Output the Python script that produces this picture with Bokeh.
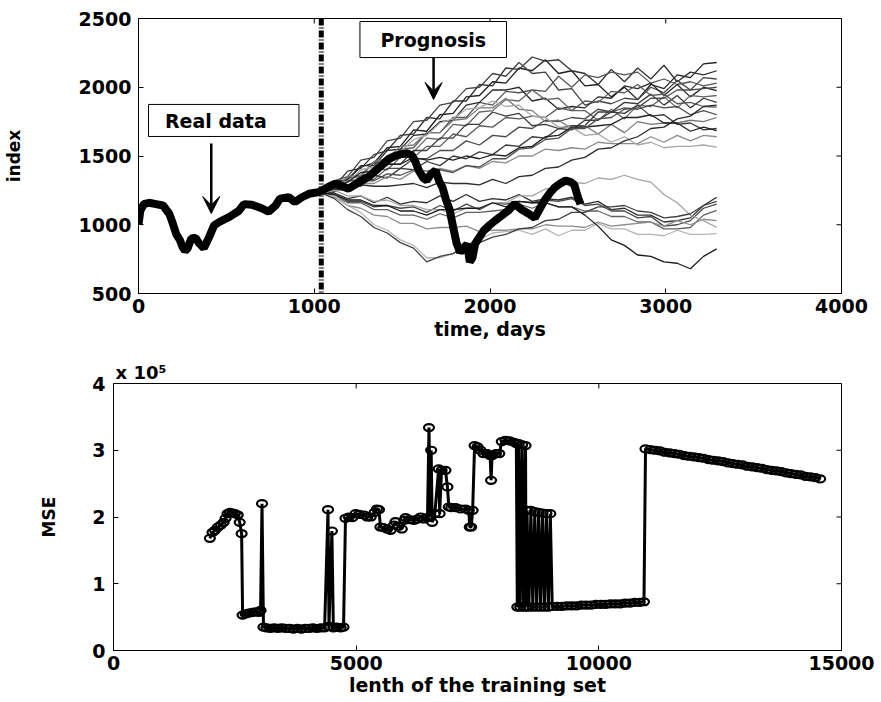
from bokeh.plotting import figure
from bokeh.layouts import column
from bokeh.models import (Span, BoxAnnotation, Label, Arrow, VeeHead, FixedTicker)
from bokeh.embed import file_html
from bokeh.resources import INLINE

FONT = "DejaVu Sans"

# ---------------- top panel data ----------------
x1_ticks = [0, 1000, 2000, 3000, 4000]
y1_ticks = [500, 1000, 1500, 2000, 2500]
split_day = 1040

real_days = [0, 10, 30, 60, 100, 140, 175, 195, 215, 235,
             250, 265, 280, 300, 325, 345, 372, 400, 430, 460,
             490, 515, 545, 570, 600, 645, 700, 740, 780, 805,
             855, 890, 930, 970, 1025, 1045, 1080, 1120, 1160, 1195,
             1230, 1270, 1310, 1350, 1390, 1425, 1460, 1500, 1530, 1555,
             1575, 1595, 1620, 1640, 1665, 1690, 1710, 1730, 1750, 1770,
             1790, 1810, 1830, 1850, 1870, 1885, 1900, 1915, 1940, 1965,
             2000, 2030, 2070, 2105, 2140, 2180, 2220, 2255, 2285, 2310,
             2340, 2370, 2400, 2430, 2460, 2480, 2500, 2515]
real_index = [1000, 1100, 1150, 1160, 1150, 1140, 1080, 1010, 930, 890,
              840, 810, 830, 900, 905, 865, 830, 905, 995, 1020,
              1040, 1055, 1080, 1100, 1150, 1145, 1120, 1095, 1140, 1190,
              1200, 1165, 1200, 1225, 1237, 1250, 1275, 1300, 1280, 1262,
              1290, 1320, 1350, 1395, 1440, 1480, 1500, 1515, 1520, 1505,
              1460, 1395, 1340, 1322, 1370, 1395, 1320, 1270, 1180, 1110,
              985, 865, 800, 830, 860, 730, 760, 860, 910, 958,
              1000, 1031, 1070, 1104, 1153, 1110, 1080, 1050, 1120, 1176,
              1230, 1273, 1300, 1322, 1310, 1290, 1200, 1150]

prog_days = [1040, 1115, 1190, 1265, 1340, 1415, 1490, 1565, 1640, 1715,
             1790, 1865, 1940, 2015, 2090, 2165, 2240, 2315, 2390, 2465,
             2540, 2615, 2690, 2765, 2840, 2915, 2990, 3065, 3140, 3215, 3290]

prog_01 = [1230, 1310, 1330, 1420, 1450, 1560, 1570, 1690, 1680, 1800,
           1810, 1930, 1940, 2040, 2030, 2140, 2120, 2200, 2100, 2120,
           2010, 2020, 1930, 2000, 1910, 2020, 1990, 2090, 2070, 2170, 2180]
prog_02 = [1230, 1280, 1390, 1410, 1510, 1540, 1650, 1660, 1780, 1770,
           1900, 1900, 2020, 2010, 2140, 2130, 2220, 2190, 2200, 2120,
           2100, 2020, 2130, 2040, 2140, 2060, 2160, 2040, 2110, 2090, 2120]
prog_03 = [1230, 1320, 1350, 1470, 1490, 1610, 1630, 1750, 1760, 1870,
           1890, 1990, 2000, 2100, 2080, 2180, 2100, 2110, 1980, 1990,
           1870, 1900, 1880, 1920, 1910, 2000, 1960, 2050, 1980, 2070, 2060]
prog_04 = [1230, 1260, 1340, 1350, 1450, 1460, 1550, 1560, 1670, 1670,
           1780, 1780, 1890, 1870, 1970, 1960, 1980, 1970, 2080, 2000,
           2090, 2070, 2110, 2090, 2110, 2030, 2060, 2020, 2040, 2010, 2030]
prog_05 = [1230, 1300, 1330, 1430, 1430, 1540, 1550, 1650, 1660, 1750,
           1760, 1870, 1890, 1980, 1980, 2000, 1900, 1920, 1840, 1860,
           1850, 1930, 1920, 2010, 1990, 2030, 1940, 2020, 1930, 2000, 1975]
prog_06 = [1230, 1250, 1320, 1320, 1420, 1430, 1520, 1530, 1630, 1620,
           1730, 1720, 1820, 1830, 1910, 1900, 1980, 1910, 1920, 1830,
           1830, 1760, 1840, 1770, 1870, 1860, 1930, 1850, 1940, 1930, 1940]
prog_07 = [1230, 1270, 1270, 1360, 1360, 1440, 1440, 1540, 1540, 1630,
           1630, 1730, 1730, 1820, 1790, 1810, 1720, 1730, 1700, 1720,
           1720, 1820, 1820, 1890, 1880, 1950, 1870, 1940, 1850, 1920, 1890]
prog_08 = [1230, 1240, 1320, 1330, 1410, 1400, 1490, 1490, 1570, 1570,
           1660, 1640, 1720, 1710, 1780, 1770, 1790, 1780, 1850, 1830,
           1900, 1890, 1970, 1960, 2020, 1940, 1950, 1880, 1890, 1860, 1855]
prog_09 = [1230, 1260, 1260, 1330, 1330, 1410, 1410, 1480, 1480, 1540,
           1540, 1610, 1580, 1650, 1640, 1710, 1700, 1760, 1750, 1780,
           1770, 1840, 1820, 1850, 1840, 1870, 1850, 1860, 1800, 1830, 1800]
prog_10 = [1230, 1260, 1350, 1360, 1460, 1480, 1570, 1580, 1670, 1670,
           1760, 1770, 1850, 1850, 1920, 1840, 1830, 1750, 1760, 1700,
           1720, 1660, 1730, 1670, 1750, 1730, 1740, 1740, 1760, 1750, 1780]
prog_11 = [1230, 1240, 1290, 1280, 1360, 1340, 1410, 1400, 1460, 1430,
           1500, 1480, 1530, 1510, 1580, 1570, 1640, 1630, 1700, 1690,
           1760, 1760, 1820, 1810, 1870, 1790, 1800, 1730, 1740, 1690, 1700]
prog_12 = [1230, 1250, 1250, 1300, 1300, 1350, 1330, 1390, 1370, 1410,
           1390, 1430, 1410, 1460, 1450, 1500, 1500, 1550, 1540, 1560,
           1550, 1600, 1590, 1590, 1590, 1640, 1600, 1650, 1610, 1650, 1640]
prog_13 = [1230, 1280, 1310, 1400, 1420, 1500, 1530, 1620, 1650, 1740,
           1770, 1840, 1850, 1900, 1860, 1870, 1790, 1780, 1710, 1710,
           1650, 1660, 1600, 1640, 1580, 1600, 1560, 1570, 1570, 1580, 1565]
prog_14 = [1230, 1280, 1310, 1380, 1390, 1440, 1440, 1490, 1470, 1490,
           1470, 1500, 1480, 1510, 1500, 1560, 1570, 1640, 1650, 1710,
           1710, 1720, 1730, 1780, 1780, 1800, 1740, 1740, 1680, 1710, 1685]
prog_15 = [1230, 1260, 1270, 1320, 1320, 1370, 1360, 1400, 1390, 1400,
           1380, 1430, 1420, 1480, 1480, 1550, 1560, 1620, 1630, 1700,
           1700, 1770, 1780, 1840, 1850, 1920, 1920, 1980, 1980, 1990, 2000]
prog_16 = [1230, 1230, 1190, 1210, 1160, 1200, 1150, 1170, 1160, 1210,
           1170, 1220, 1170, 1190, 1180, 1220, 1170, 1190, 1180, 1200,
           1150, 1170, 1110, 1120, 1070, 1070, 1020, 1030, 1050, 1140, 1200]
prog_17 = [1230, 1220, 1170, 1170, 1130, 1140, 1120, 1130, 1090, 1140,
           1100, 1150, 1110, 1160, 1150, 1170, 1160, 1180, 1170, 1190,
           1140, 1150, 1100, 1100, 1050, 1060, 990, 1000, 1030, 1120, 1150]
prog_18 = [1230, 1210, 1160, 1160, 1110, 1110, 1070, 1070, 1040, 1080,
           1050, 1090, 1090, 1100, 1110, 1150, 1120, 1160, 1130, 1130,
           1100, 1100, 1060, 1060, 1020, 1020, 970, 970, 980, 1070, 1105]
prog_19 = [1230, 1200, 1140, 1120, 1070, 1060, 1010, 1010, 970, 980,
           980, 990, 950, 960, 960, 970, 970, 1000, 990, 990,
           980, 1020, 990, 1000, 1010, 1020, 990, 1030, 1000, 1040, 1030]
prog_20 = [1230, 1210, 1140, 1090, 1000, 960, 890, 850, 760, 760,
           790, 860, 890, 940, 950, 960, 930, 970, 920, 960,
           960, 1010, 970, 970, 930, 930, 920, 960, 930, 930, 935]
prog_21 = [1230, 1250, 1210, 1210, 1170, 1180, 1140, 1140, 1110, 1110,
           1080, 1120, 1120, 1160, 1160, 1210, 1210, 1260, 1270, 1310,
           1300, 1340, 1330, 1360, 1330, 1310, 1220, 1160, 1070, 1030, 980]
prog_22 = [1230, 1220, 1180, 1180, 1140, 1140, 1100, 1100, 1070, 1110,
           1110, 1120, 1120, 1160, 1130, 1170, 1160, 1160, 1130, 1130,
           1070, 990, 890, 850, 780, 770, 730, 720, 680, 770, 825]
prog_23 = [1230, 1190, 1110, 1060, 980, 940, 870, 830, 730, 770,
           790, 850, 870, 910, 930, 970, 980, 1030, 1040, 1090,
           1090, 1130, 1130, 1140, 1100, 1090, 1050, 1060, 1080, 1140, 1170]
prog_24 = [1230, 1260, 1260, 1290, 1280, 1280, 1290, 1300, 1270, 1310,
           1300, 1300, 1290, 1330, 1300, 1350, 1360, 1410, 1420, 1470,
           1490, 1550, 1560, 1610, 1640, 1700, 1710, 1770, 1790, 1860, 1870]

prog_series = [prog_01, prog_02, prog_03, prog_04, prog_05, prog_06, prog_07, prog_08,
               prog_09, prog_10, prog_11, prog_12, prog_13, prog_14, prog_15, prog_16,
               prog_17, prog_18, prog_19, prog_20, prog_21, prog_22, prog_23, prog_24]
prog_colors = ["#1e1e1e", "#333333", "#444444", "#555555", "#2a2a2a", "#666666",
               "#3a3a3a", "#5a5a5a", "#4a4a4a", "#777777", "#3c3c3c", "#8c8c8c",
               "#a8a8a8", "#222222", "#505050", "#303030", "#474747", "#626262",
               "#8e8e8e", "#b4b4b4", "#a4a4a4", "#1a1a1a", "#404040", "#2c2c2c"]

# ---------------- bottom panel data ----------------
x2_ticks = [0, 5000, 10000, 15000]
y2_ticks = [0, 1, 2, 3, 4]

mse_len = [1985, 2040, 2090, 2150, 2210, 2270, 2310, 2350, 2400, 2450, 2500, 2560, 2600, 2640,
           2660, 2720, 2790, 2860, 2930, 3000, 3030, 3060, 3090,
           3150, 3230, 3310, 3390, 3470, 3550, 3630, 3710, 3790, 3870, 3950, 4030, 4110, 4190, 4270, 4350,
           4420, 4440, 4500, 4530, 4600, 4680, 4740, 4780,
           4850, 4920, 4990, 5060, 5160, 5230, 5300, 5380, 5430, 5470, 5500, 5560, 5640,
           5710, 5780, 5810, 5870, 5940, 5990, 6020, 6100, 6190, 6260, 6330, 6400, 6470,
           6500, 6530, 6545, 6566, 6620, 6700, 6720, 6760, 6840, 6880, 6910, 6960,
           7050, 7150, 7250, 7320, 7340, 7370, 7400, 7440, 7500, 7560, 7620,
           7700, 7760, 7780, 7800, 7880, 7950, 8000, 8077, 8160, 8248, 8300,
           8320, 8350, 8380, 8420, 8450, 8490, 8500, 8520, 8560, 8600, 8640,
           8680, 8720, 8760, 8800, 8840, 8880, 8920, 8960, 9000, 9040,
           9140, 9240, 9340, 9440, 9540, 9640, 9740, 9840, 9940, 10040,
           10140, 10240, 10340, 10440, 10540, 10640, 10740, 10840, 10930, 10962,
           11060, 11160, 11260, 11360, 11460, 11560, 11660, 11760, 11860, 11960, 12060, 12160,
           12260, 12360, 12460, 12560, 12660, 12760, 12860, 12960, 13060, 13160, 13260, 13360,
           13460, 13560, 13660, 13760, 13860, 13960, 14060, 14160, 14260, 14360, 14460, 14560]
mse_e5 = [1.68, 1.77, 1.80, 1.85, 1.88, 1.92, 1.98, 2.05, 2.07, 2.06, 2.05, 2.03, 1.92, 1.75,
          0.53, 0.55, 0.56, 0.57, 0.58, 0.57, 0.60, 2.20, 0.35,
          0.34, 0.33, 0.34, 0.33, 0.34, 0.33, 0.33, 0.32, 0.33, 0.32, 0.33, 0.33, 0.34, 0.33, 0.34, 0.34,
          2.11, 0.36, 1.79, 0.34, 0.35, 0.34, 0.35, 1.98,
          2.00, 1.99, 2.05, 2.04, 2.03, 2.00, 2.00, 2.07, 2.12, 2.11, 1.85, 1.84, 1.82,
          1.80, 1.88, 1.93, 1.86, 1.82, 1.95, 1.99, 1.96, 1.95, 1.97, 2.00, 1.97, 1.99,
          3.34, 2.00, 3.00, 1.92, 2.05, 2.72, 2.05, 2.70, 2.70, 2.45, 2.15, 2.14,
          2.14, 2.12, 2.12, 2.10, 1.85, 1.85, 2.10, 3.07, 3.05, 3.00, 2.95,
          2.95, 2.92, 2.55, 2.92, 2.95, 2.95, 3.13, 3.15, 3.14, 3.12, 3.10,
          0.65, 3.10, 0.65, 3.08, 0.65, 3.07, 0.65, 2.10, 0.65, 2.10, 0.65,
          2.08, 0.65, 2.07, 0.65, 2.06, 0.65, 2.05, 0.65, 2.05, 0.66,
          0.66, 0.66, 0.67, 0.67, 0.67, 0.68, 0.68, 0.68, 0.69, 0.69,
          0.69, 0.70, 0.70, 0.70, 0.71, 0.71, 0.72, 0.72, 0.73, 3.02,
          3.01, 3.00, 2.99, 2.97, 2.96, 2.95, 2.94, 2.92, 2.91, 2.90, 2.89, 2.88,
          2.86, 2.85, 2.84, 2.83, 2.81, 2.80, 2.79, 2.78, 2.76, 2.75, 2.74, 2.73,
          2.71, 2.70, 2.69, 2.68, 2.66, 2.65, 2.64, 2.63, 2.61, 2.60, 2.59, 2.57]


def style(p, xticks, yticks, xlab_standoff, ylab_standoff, frame_w, frame_h):
    p.xgrid.visible = False
    p.ygrid.visible = False
    p.outline_line_color = "black"
    p.outline_line_width = 1
    p.outline_line_alpha = 1
    p.background_fill_color = "white"
    p.border_fill_color = "white"
    p.xaxis.ticker = FixedTicker(ticks=xticks)
    p.yaxis.ticker = FixedTicker(ticks=yticks)
    for ax in list(p.xaxis) + list(p.yaxis):
        ax.major_tick_in = 5
        ax.major_tick_out = 0
        ax.minor_tick_in = 0
        ax.minor_tick_out = 0
        ax.axis_line_color = "black"
        ax.major_tick_line_color = "black"
        ax.major_label_text_font = FONT
        ax.major_label_text_font_style = "bold"
        ax.major_label_text_font_size = "19px"
        ax.major_label_text_color = "black"
        ax.axis_label_text_font = FONT
        ax.axis_label_text_font_style = "bold"
        ax.axis_label_text_color = "black"
    p.xaxis.major_label_standoff = xlab_standoff
    p.yaxis.major_label_standoff = ylab_standoff
    # inward ticks on top and right edges (box style), 5 px long
    x0, x1 = p.x_range.start, p.x_range.end
    y0, y1 = p.y_range.start, p.y_range.end
    ty = 5 * (y1 - y0) / frame_h
    tx = 5 * (x1 - x0) / frame_w
    p.segment(x0=xticks, y0=[y1] * len(xticks), x1=xticks, y1=[y1 - ty] * len(xticks),
              line_color="black", line_width=1)
    p.segment(x0=[x1] * len(yticks), y0=yticks, x1=[x1 - tx] * len(yticks), y1=yticks,
              line_color="black", line_width=1)


# ---------------- top figure ----------------
p1 = figure(width=880, height=348, x_range=(0, 4000), y_range=(500, 2500),
            output_backend="svg", toolbar_location=None,
            min_border_left=136, min_border_right=39,
            min_border_top=18, min_border_bottom=55)

for vals, col in zip(prog_series, prog_colors):
    p1.line(prog_days, vals, line_color=col, line_width=1.3)

p1.line(real_days, real_index, line_color="black", line_width=8)

p1.add_layout(Span(location=split_day, dimension="height", line_color="black",
                   line_width=5, line_dash="7 2 1 2"))

p1.add_layout(BoxAnnotation(left=57, right=913, bottom=1642, top=1875,
                            fill_color="white", fill_alpha=1,
                            line_color="black", line_width=1, line_alpha=1))
p1.add_layout(Label(x=440, y=1758, text="Real data", text_align="center",
                    text_baseline="middle", text_font=FONT, text_font_style="bold",
                    text_font_size="19px", text_color="black"))
p1.add_layout(Arrow(end=VeeHead(size=17, fill_color="black", line_color="black"),
                    x_start=414, y_start=1591, x_end=414, y_end=1082,
                    line_color="black", line_width=2.5))

p1.add_layout(BoxAnnotation(left=1260, right=2094, bottom=2216, top=2478,
                            fill_color="white", fill_alpha=1,
                            line_color="black", line_width=1, line_alpha=1))
p1.add_layout(Label(x=1677, y=2347, text="Prognosis", text_align="center",
                    text_baseline="middle", text_font=FONT, text_font_style="bold",
                    text_font_size="19px", text_color="black"))
p1.add_layout(Arrow(end=VeeHead(size=17, fill_color="black", line_color="black"),
                    x_start=1679, y_start=2216, x_end=1679, y_end=1911,
                    line_color="black", line_width=2.5))

p1.xaxis.axis_label = "time, days"
p1.yaxis.axis_label = "index"
style(p1, x1_ticks, y1_ticks, 5, 7, 705, 275)
p1.xaxis.axis_label_standoff = 2
p1.xaxis.axis_label_text_font_size = "19px"
p1.yaxis.axis_label_standoff = 52
p1.yaxis.axis_label_text_font_size = "17px"

# ---------------- bottom figure ----------------
p2 = figure(width=880, height=353, x_range=(0, 15000), y_range=(0, 4),
            output_backend="svg", toolbar_location=None,
            min_border_left=113, min_border_right=39,
            min_border_top=35, min_border_bottom=51,
            title="x 10\u2075")
p2.title.align = "left"
p2.title.text_font = FONT
p2.title.text_font_style = "bold"
p2.title.text_font_size = "18px"
p2.title.text_color = "black"
p2.title.offset = 2
p2.title.standoff = 1

p2.line(mse_len, mse_e5, line_color="black", line_width=3)
p2.ellipse(x=mse_len, y=mse_e5, width=10, height=7,
           width_units="screen", height_units="screen",
           fill_alpha=0, line_color="black", line_width=2.2)

p2.xaxis.axis_label = "lenth of the training set"
p2.yaxis.axis_label = "MSE"
style(p2, x2_ticks, y2_ticks, 5, 8, 728, 267)
p2.xaxis.axis_label_standoff = 1
p2.xaxis.axis_label_text_font_size = "19px"
p2.yaxis.axis_label_standoff = 30
p2.yaxis.axis_label_text_font_size = "17px"

# nested columns keep each plot's own frame position (no cross-plot frame alignment)
layout = column(column(p1), column(p2), spacing=0)
open("out.html", "w").write(file_html(layout, INLINE))
